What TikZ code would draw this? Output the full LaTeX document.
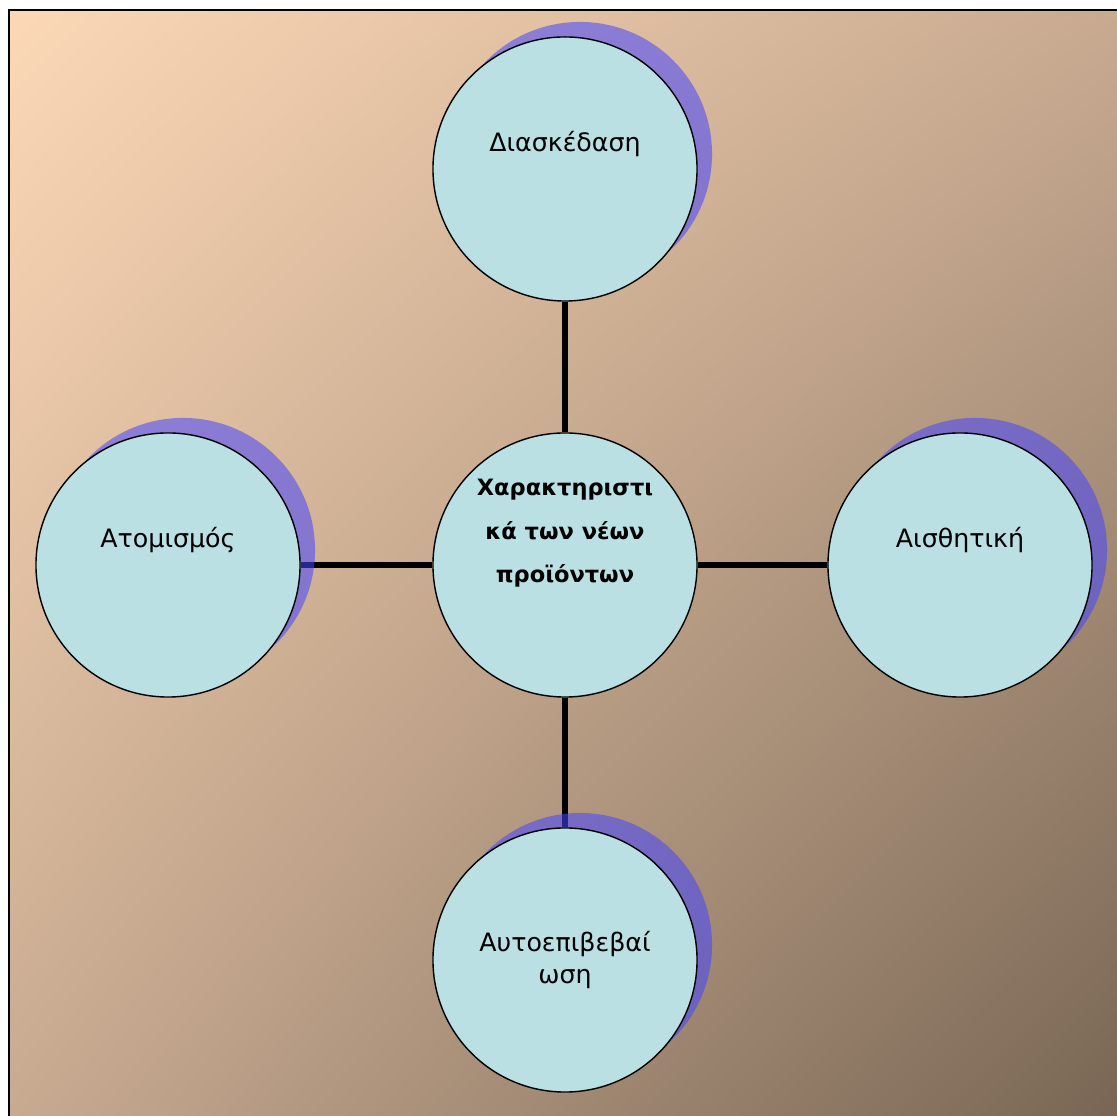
\documentclass[tikz,border=0pt]{standalone}
\usepackage{fontspec}
\setmainfont{DejaVu Sans}
\usetikzlibrary{shadows,shadings,backgrounds}

\definecolor{bgpeach}{RGB}{252,216,182}
\definecolor{bgmid}{RGB}{200,170,145}
\definecolor{bgumber}{RGB}{120,102,84}
\definecolor{bubblefill}{RGB}{186,224,227}
\definecolor{shadowblue}{RGB}{70,70,255}

\begin{document}
\begin{tikzpicture}[
    x=0.025cm,y=0.025cm,
    bubble/.style={circle, draw, line width=1pt, fill=bubblefill,
      minimum size=6.6cm, inner sep=0pt, font=\fontsize{18}{23}\selectfont},
    shadebubble/.style={bubble, drop shadow={shadow xshift=0.375cm,
      shadow yshift=0.375cm, fill=shadowblue, opacity=0.55}},
    textup/.style={text height=0.45cm, text depth=1.3cm},
    spoke/.style={line width=4pt}
    ]
    \useasboundingbox (0,0) rectangle (1117,1116);
    \begin{scope}[on background layer]
      \shade[upper left=bgpeach, upper right=bgmid, lower left=bgmid,
        lower right=bgumber] (9,0) rectangle (1117,1106);
      \draw[line width=1.4pt] (9,0) -- (9,1106) -- (1117,1106);
    \end{scope}
    % hub and the four topics
    \node[bubble, align=center, text depth=1.7cm,
      font=\bfseries\fontsize{16}{31}\selectfont] (hub) at (565,551)
      {Χαρακτηριστι\\κά των νέων\\προϊόντων};
    \node[shadebubble, textup] (fun) at (565,947) {Διασκέδαση};
    \node[shadebubble, textup] (self) at (168,551) {Ατομισμός};
    \node[shadebubble, textup] (look) at (960,551) {Αισθητική};
    \node[shadebubble, align=center] (esteem) at (565,156) {Αυτοεπιβεβαί\\ωση};
    \begin{scope}[on background layer]
      \draw[spoke] (hub) -- (fun);
      \draw[spoke] (hub) -- (self);
      \draw[spoke] (hub) -- (look);
      \draw[spoke] (hub) -- (esteem);
    \end{scope}
  \end{tikzpicture}
\end{document}
